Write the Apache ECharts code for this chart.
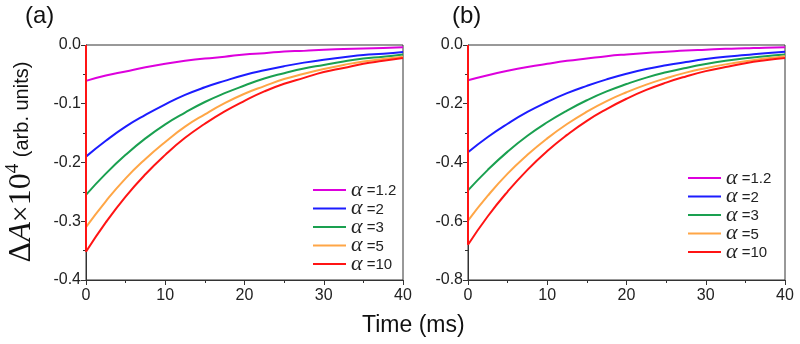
<!DOCTYPE html>
<html>
<head>
<meta charset="utf-8">
<script src="https://cdn.jsdelivr.net/npm/echarts@6/dist/echarts.min.js"></script>
<style>
  html, body { margin: 0; padding: 0; background: #fff; }
  #chart { width: 800px; height: 344px; }
</style>
</head>
<body>
<div id="chart"></div>
<script>
// time axis (ms)
var times = [0, 2.5, 5, 7.5, 10, 12.5, 15, 17.5, 20, 22.5, 25, 27.5, 30, 32.5, 35, 37.5, 40];
var names = ['1.2', '2', '3', '5', '10'];
var colors = ['#dd00dd', '#1c1cff', '#1aa050', '#ffa646', '#ff1414'];

// panel (a)
var a12 = [-0.061, -0.052, -0.045, -0.038, -0.032, -0.027, -0.023, -0.020, -0.016, -0.014, -0.011, -0.010, -0.008, -0.007, -0.006, -0.005, -0.004];
var a2  = [-0.190, -0.163, -0.139, -0.119, -0.101, -0.085, -0.072, -0.061, -0.051, -0.043, -0.036, -0.030, -0.025, -0.021, -0.017, -0.015, -0.012];
var a3  = [-0.255, -0.219, -0.187, -0.159, -0.135, -0.115, -0.097, -0.082, -0.069, -0.057, -0.048, -0.040, -0.034, -0.028, -0.023, -0.020, -0.016];
var a5  = [-0.310, -0.266, -0.227, -0.194, -0.165, -0.139, -0.118, -0.099, -0.083, -0.070, -0.058, -0.049, -0.041, -0.034, -0.028, -0.024, -0.020];
var a10 = [-0.352, -0.302, -0.258, -0.220, -0.187, -0.158, -0.134, -0.113, -0.095, -0.079, -0.066, -0.056, -0.046, -0.039, -0.032, -0.027, -0.022];

// panel (b)
var b12 = [-0.120, -0.103, -0.088, -0.075, -0.064, -0.054, -0.046, -0.038, -0.032, -0.027, -0.023, -0.019, -0.016, -0.013, -0.011, -0.009, -0.008];
var b2  = [-0.365, -0.313, -0.268, -0.228, -0.194, -0.164, -0.139, -0.117, -0.098, -0.082, -0.069, -0.058, -0.048, -0.040, -0.034, -0.028, -0.023];
var b3  = [-0.495, -0.425, -0.363, -0.309, -0.263, -0.223, -0.188, -0.158, -0.133, -0.111, -0.093, -0.078, -0.065, -0.054, -0.045, -0.038, -0.032];
var b5  = [-0.598, -0.513, -0.438, -0.374, -0.318, -0.269, -0.227, -0.191, -0.161, -0.135, -0.113, -0.094, -0.079, -0.066, -0.055, -0.046, -0.038];
var b10 = [-0.680, -0.583, -0.499, -0.425, -0.361, -0.306, -0.258, -0.218, -0.183, -0.153, -0.128, -0.107, -0.089, -0.075, -0.062, -0.052, -0.044];

var panelA = [a12, a2, a3, a5, a10];
var panelB = [b12, b2, b3, b5, b10];

var chart = echarts.init(document.getElementById('chart'), null, { renderer: 'canvas' });

var axisColor = '#333';
var labelFont = { fontFamily: 'Liberation Sans, Arial', fontSize: 16, color: '#222' };

function makeX(idx) {
  return {
    type: 'value', gridIndex: idx, min: 0, max: 40, interval: 10,
    axisLine: { show: true, onZero: false, lineStyle: { color: axisColor, width: 1 } },
    axisTick: { show: true, inside: false, length: 5, lineStyle: { color: axisColor } },
    minorTick: { show: true, splitNumber: 2, length: 3, lineStyle: { color: axisColor } },
    splitLine: { show: false },
    axisLabel: Object.assign({ margin: 8 }, labelFont)
  };
}
function makeY(idx, min, step) {
  return {
    type: 'value', gridIndex: idx, min: min, max: 0, interval: step,
    axisLine: { show: true, onZero: false, lineStyle: { color: axisColor, width: 1 } },
    axisTick: { show: true, inside: false, length: 5, lineStyle: { color: axisColor } },
    minorTick: { show: true, splitNumber: 2, length: 3, lineStyle: { color: axisColor } },
    splitLine: { show: false },
    axisLabel: Object.assign({ margin: 5, formatter: function (v) { return v.toFixed(1); } }, labelFont)
  };
}

var series = [];
function addPanel(vals, idx) {
  vals.forEach(function (arr, i) {
    var pts = times.map(function (t, k) { return [t, arr[k]]; });
    series.push({
      name: names[i],
      type: 'line',
      xAxisIndex: idx, yAxisIndex: idx,
      data: pts,
      smooth: 0.5,
      symbol: 'none',
      clip: false,
      lineStyle: { color: colors[i], width: 2 },
      itemStyle: { color: colors[i] },
      // vertical jump at t = 0
      markLine: {
        silent: true, symbol: ['none', 'none'], animation: false,
        label: { show: false },
        lineStyle: { color: colors[i], width: 2, type: 'solid' },
        data: [[{ coord: [times[0], 0] }, { coord: [times[0], arr[0]] }]]
      }
    });
  });
}
addPanel(panelA, 0);
addPanel(panelB, 1);

var legendBase = {
  orient: 'vertical',
  data: names,
  icon: 'path://M0,6 L33,6 L33,8 L0,8 Z',
  itemWidth: 33,
  itemHeight: 14,
  itemGap: -3.5,
  selectedMode: false,
  formatter: function (n) { return '{g|α} {n|=' + n + '}'; },
  textStyle: {
    fontFamily: 'Liberation Sans, Arial', fontSize: 15, color: '#222', lineHeight: 14,
    rich: {
      g: { fontFamily: 'Liberation Serif, Times New Roman', fontStyle: 'italic', fontSize: 22, color: '#222', lineHeight: 14, height: 14 },
      n: { fontFamily: 'Liberation Sans, Arial', fontSize: 15, color: '#222', lineHeight: 14, height: 14, padding: [2, 0, 0, 0] }
    }
  }
};

chart.setOption({
  animation: false,
  backgroundColor: '#fff',
  grid: [
    { left: 86, top: 45, width: 317, height: 235, show: true, borderColor: axisColor, borderWidth: 1, backgroundColor: 'transparent' },
    { left: 468, top: 45, width: 317, height: 235, show: true, borderColor: axisColor, borderWidth: 1, backgroundColor: 'transparent' }
  ],
  xAxis: [makeX(0), makeX(1)],
  yAxis: [makeY(0, -0.4, 0.1), makeY(1, -0.8, 0.2)],
  legend: [
    Object.assign({ left: 308, top: 174 }, legendBase),
    Object.assign({ left: 683, top: 162 }, legendBase)
  ],
  graphic: [
    { type: 'text', left: 25, top: 4, style: { text: '(a)', fontFamily: 'Liberation Sans, Arial', fontSize: 24, fill: '#111' } },
    { type: 'text', left: 452, top: 4, style: { text: '(b)', fontFamily: 'Liberation Sans, Arial', fontSize: 24, fill: '#111' } },
    { type: 'text', left: 362, top: 314, style: { text: 'Time (ms)', fontFamily: 'Liberation Sans, Arial', fontSize: 23, fill: '#111' } },
    {
      type: 'text', x: 22, y: 162, rotation: Math.PI / 2,
      style: {
        text: '{d|Δ}{a|A}{x|×}{t|10}{s|4}  {u|(arb. units)}',
        align: 'center', verticalAlign: 'middle', fill: '#111',
        rich: {
          d: { fontFamily: 'Liberation Serif', fontSize: 32, fill: '#111' },
          a: { fontFamily: 'Liberation Serif', fontStyle: 'italic', fontSize: 32, fill: '#111' },
          x: { fontFamily: 'Liberation Serif', fontSize: 30, fill: '#111' },
          t: { fontFamily: 'Liberation Serif', fontSize: 32, fill: '#111' },
          s: { fontFamily: 'Liberation Serif', fontSize: 19, fill: '#111', padding: [0, 0, 18, 0] },
          u: { fontFamily: 'Liberation Sans, Arial', fontSize: 20, fill: '#111' }
        }
      }
    }
  ],
  series: series
});
</script>
</body>
</html>
